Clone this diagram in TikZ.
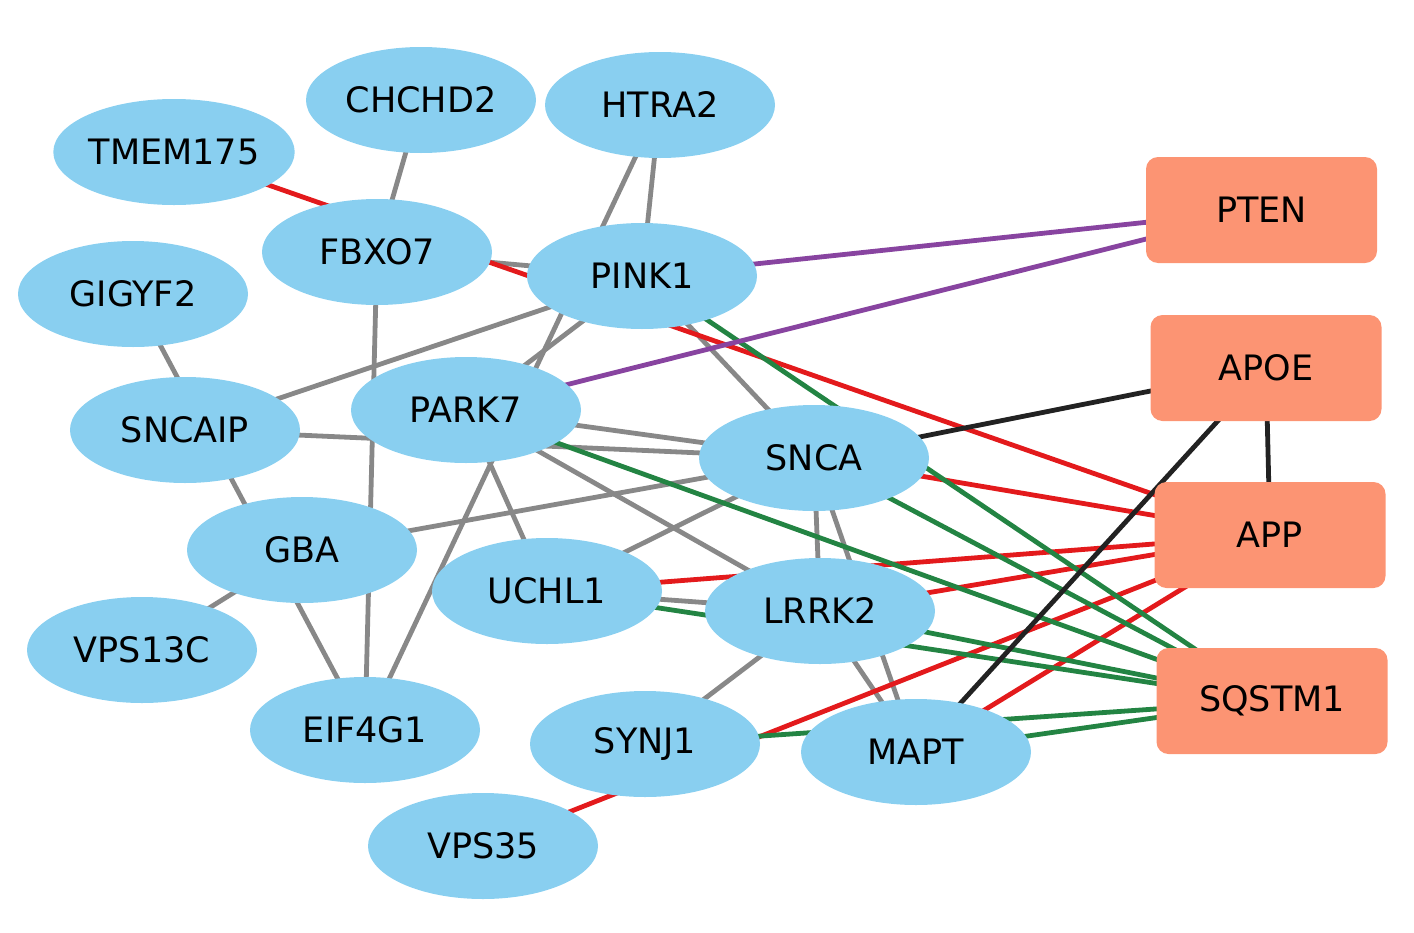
\documentclass[tikz,border=0pt]{standalone}
\usepackage{fontspec}
\setmainfont{DejaVu Sans}
\usetikzlibrary{shapes.geometric,backgrounds}
\definecolor{nodeblue}{RGB}{137,207,240}
\definecolor{boxsalmon}{RGB}{252,148,115}
\definecolor{egray}{RGB}{136,136,136}
\definecolor{ered}{RGB}{227,26,28}
\definecolor{egreen}{RGB}{35,132,67}
\definecolor{epurple}{RGB}{136,68,160}
\definecolor{eblack}{RGB}{34,34,34}
\tikzset{
  gene/.style={ellipse, fill=nodeblue, minimum width=115pt, minimum height=53pt, inner sep=0pt, font=\fontsize{17.5}{20}\selectfont},
  target/.style={rectangle, rounded corners=6pt, fill=boxsalmon, minimum width=115.5pt, minimum height=53pt, inner sep=0pt, font=\fontsize{17.5}{20}\selectfont},
  gedge/.style={draw=egray, line width=2.4pt},
  redge/.style={draw=ered, line width=2.4pt},
  nedge/.style={draw=egreen, line width=2.4pt},
  pedge/.style={draw=epurple, line width=2.4pt},
  kedge/.style={draw=eblack, line width=2.4pt}
}
\begin{document}
\begin{tikzpicture}[x=0.5pt,y=-0.5pt]
\useasboundingbox (0,0) rectangle (1414,932);
% genes
\node[gene] (CHCHD2) at (421,100) {CHCHD2};
\node[gene] (HTRA2) at (660,105) {HTRA2};
\node[gene] (TMEM175) at (174,152) {TMEM175};
\node[gene] (FBXO7) at (377,252) {FBXO7};
\node[gene] (PINK1) at (642,276) {PINK1};
\node[gene] (GIGYF2) at (133,294) {GIGYF2};
\node[gene] (SNCAIP) at (185,430) {SNCAIP};
\node[gene] (PARK7) at (466,410) {PARK7};
\node[gene] (SNCA) at (814,458) {SNCA};
\node[gene] (GBA) at (302,550) {GBA};
\node[gene] (UCHL1) at (547,591) {UCHL1};
\node[gene] (LRRK2) at (820,611) {LRRK2};
\node[gene] (VPS13C) at (142,650) {VPS13C};
\node[gene] (EIF4G1) at (365,730) {EIF4G1};
\node[gene] (SYNJ1) at (645,744) {SYNJ1};
\node[gene] (MAPT) at (916,752) {MAPT};
\node[gene] (VPS35) at (483,846) {VPS35};
% targets
\node[target] (PTEN) at (1261.5,210) {PTEN};
\node[target] (APOE) at (1266,368) {APOE};
\node[target] (APP) at (1270,535) {APP};
\node[target] (SQSTM1) at (1272,701) {SQSTM1};
\begin{pgfonlayer}{background}
% gray
\draw[gedge] (CHCHD2.center) -- (FBXO7.center);
\draw[gedge] (HTRA2.center) -- (PINK1.center);
\draw[gedge] (HTRA2.center) -- (EIF4G1.center);
\draw[gedge] (FBXO7.center) -- (PINK1.center);
\draw[gedge] (FBXO7.center) -- (EIF4G1.center);
\draw[gedge] (PINK1.center) -- (SNCAIP.center);
\draw[gedge] (PINK1.center) -- (PARK7.center);
\draw[gedge] (PINK1.center) -- (SNCA.center);
\draw[gedge] (GIGYF2.center) -- (EIF4G1.center);
\draw[gedge] (SNCAIP.center) -- (SNCA.center);
\draw[gedge] (PARK7.center) -- (SNCA.center);
\draw[gedge] (PARK7.center) -- (UCHL1.center);
\draw[gedge] (PARK7.center) -- (LRRK2.center);
\draw[gedge] (GBA.center) -- (SNCA.center);
\draw[gedge] (GBA.center) -- (VPS13C.center);
\draw[gedge] (UCHL1.center) -- (SNCA.center);
\draw[gedge] (UCHL1.center) -- (LRRK2.center);
\draw[gedge] (SNCA.center) -- (LRRK2.center);
\draw[gedge] (SNCA.center) -- (MAPT.center);
\draw[gedge] (LRRK2.center) -- (MAPT.center);
\draw[gedge] (LRRK2.center) -- (SYNJ1.center);
% red
\draw[redge] (TMEM175.center) -- (APP.center);
\draw[redge] (SNCA.center) -- (APP.center);
\draw[redge] (UCHL1.center) -- (APP.center);
\draw[redge] (LRRK2.center) -- (APP.center);
\draw[redge] (VPS35.center) -- (APP.center);
\draw[redge] (MAPT.center) -- (APP.center);
% green
\draw[nedge] (PINK1.center) -- (SQSTM1.center);
\draw[nedge] (PARK7.center) -- (SQSTM1.center);
\draw[nedge] (SNCA.center) -- (SQSTM1.center);
\draw[nedge] (UCHL1.center) -- (SQSTM1.center);
\draw[nedge] (LRRK2.center) -- (SQSTM1.center);
\draw[nedge] (SYNJ1.center) -- (SQSTM1.center);
\draw[nedge] (MAPT.center) -- (SQSTM1.center);
% purple
\draw[pedge] (PINK1.center) -- (PTEN.center);
\draw[pedge] (PARK7.center) -- (PTEN.center);
% black
\draw[kedge] (SNCA.center) -- (APOE.center);
\draw[kedge] (MAPT.center) -- (APOE.center);
\draw[kedge] (APOE.center) -- (APP.center);
\end{pgfonlayer}
\end{tikzpicture}
\end{document}
